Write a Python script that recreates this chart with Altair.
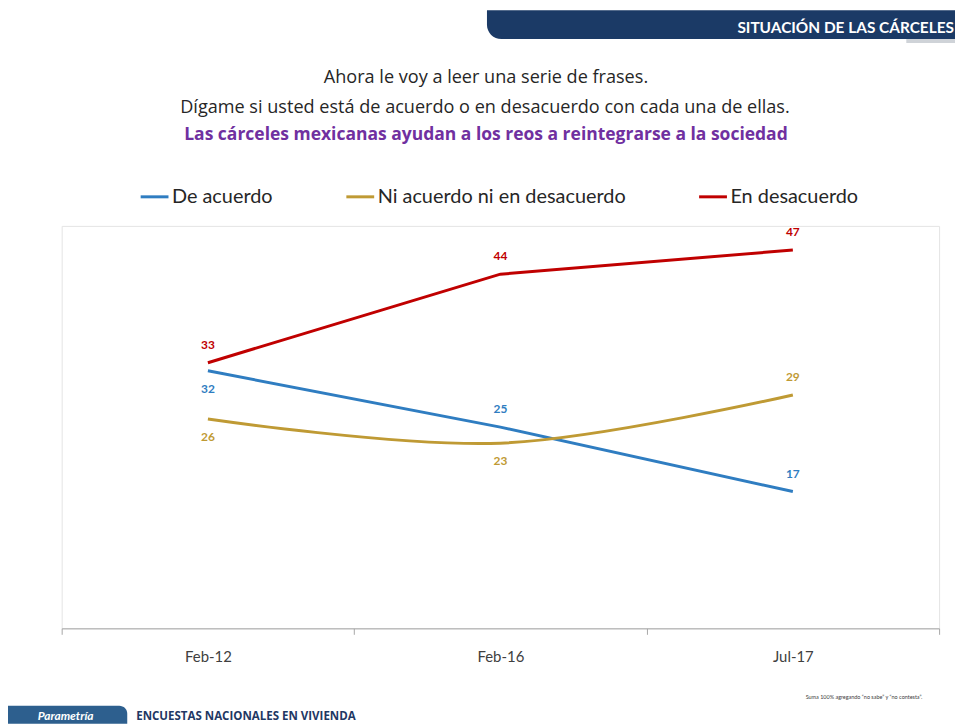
import altair as alt
import pandas as pd

fechas = ["Feb-12", "Feb-16", "Jul-17"]
series = ["De acuerdo", "Ni acuerdo ni en desacuerdo", "En desacuerdo"]
de_acuerdo = [32, 25, 17]
ni_acuerdo = [26, 23, 29]
en_desacuerdo = [33, 44, 47]
# label placement relative to the point
lado_de_acuerdo = ["abajo", "arriba", "arriba"]
lado_ni = ["abajo", "abajo", "arriba"]
lado_en = ["arriba", "arriba", "arriba"]
colores = ["#2F7DC1", "#BF9A34", "#C00000"]

rows = []
for s, vals, sides in zip(series, [de_acuerdo, ni_acuerdo, en_desacuerdo],
                          [lado_de_acuerdo, lado_ni, lado_en]):
    for f, v, sd in zip(fechas, vals, sides):
        rows.append({"fecha": f, "serie": s, "valor": v, "lado": sd})
df = pd.DataFrame(rows)

FONT = "Lato"
TFONT = "Open Sans"

x_enc = alt.X(
    "fecha:N", sort=fechas, title=None,
    scale=alt.Scale(type="band", paddingInner=0, paddingOuter=0),
    axis=alt.Axis(labelAngle=0, tickBand="extent", domainColor="#a6a6a6",
                  tickColor="#a6a6a6", tickSize=6, labelPadding=15,
                  labelFontSize=15, labelColor="#404040", labelFont=FONT,
                  grid=False),
)
y_enc = alt.Y("valor:Q", scale=alt.Scale(domain=[0, 50]), axis=None)
color_enc = alt.Color(
    "serie:N", sort=series,
    scale=alt.Scale(domain=series, range=colores),
    legend=alt.Legend(title=None, orient="none", legendX=78, legendY=-45,
                      direction="horizontal", symbolType="stroke",
                      symbolSize=784, symbolStrokeWidth=3, labelFontSize=20,
                      labelFont=FONT, labelColor="#262626", columnPadding=67,
                      labelOffset=2, labelLimit=400),
)

base = alt.Chart(df)

lines_straight = base.transform_filter(
    alt.FieldOneOfPredicate(field="serie", oneOf=["De acuerdo", "En desacuerdo"])
).mark_line(strokeWidth=3).encode(x=x_enc, y=y_enc, color=color_enc, detail="serie:N")

line_smooth = base.transform_filter(
    alt.FieldEqualPredicate(field="serie", equal="Ni acuerdo ni en desacuerdo")
).mark_line(strokeWidth=3, interpolate="catmull-rom").encode(x=x_enc, y=y_enc, color=color_enc)

labels_up = base.transform_filter(
    alt.FieldEqualPredicate(field="lado", equal="arriba")
).mark_text(dy=-18, fontWeight="bold", fontSize=12, font=FONT).encode(
    x=x_enc, y=y_enc, color=color_enc, text="valor:Q")

labels_down = base.transform_filter(
    alt.FieldEqualPredicate(field="lado", equal="abajo")
).mark_text(dy=18, fontWeight="bold", fontSize=12, font=FONT).encode(
    x=x_enc, y=y_enc, color=color_enc, text="valor:Q")


def deco_text(text, x, y, font=FONT, **kw):
    return alt.Chart(alt.Data(values=[{"k": 0}])).mark_text(
        text=text, font=font, baseline="middle", **kw
    ).encode(x=alt.value(x), y=alt.value(y))


def deco_rect(x, x2, y, y2, **kw):
    return alt.Chart(alt.Data(values=[{"k": 0}])).mark_rect(**kw).encode(
        x=alt.value(x), x2=alt.value(x2), y=alt.value(y), y2=alt.value(y2))


banner = deco_rect(428, 899, -217, -188, color="#1B3A66", cornerRadiusBottomLeft=22)
banner_shadow = deco_rect(850, 899, -188, -184, color="#cfd3d8")
banner_text = deco_text("SITUACIÓN DE LAS CÁRCELES", 898, -199, align="right",
                        fontSize=15.5, fontWeight="bold", color="#ffffff")

t1 = deco_text("Ahora le voy a leer una serie de frases.", 427, -149, font=TFONT,
               align="center", fontSize=18.2, color="#262626")
t2 = deco_text("Dígame si usted está de acuerdo o en desacuerdo con cada una de ellas.",
               426, -119, font=TFONT, align="center", fontSize=18.2, color="#262626")
t3 = deco_text("Las cárceles mexicanas ayudan a los reos a reintegrarse a la sociedad",
               427, -91, font=TFONT, align="center", fontSize=17.6, fontWeight="bold",
               color="#7030A0")

note = deco_text("Suma 100% agregando \u201cno sabe\u201d y \u201cno contesta\u201d.", 866, 474,
                 align="right", fontSize=5.5, color="#404040")

footer_box = deco_rect(-54, 66, 483, 501, color="#2D5F8E", cornerRadiusTopRight=8)
footer_brand = deco_text("Parametría", 4, 493, align="center", fontSize=12,
                         fontWeight="bold", fontStyle="italic", color="#ffffff")
footer_text = deco_text("ENCUESTAS NACIONALES EN VIVIENDA", 75, 494, font=TFONT,
                        align="left", fontSize=11.6, fontWeight="bold", color="#1F3864")

chart = alt.layer(
    lines_straight, line_smooth, labels_up, labels_down,
    banner, banner_shadow, banner_text, t1, t2, t3, note,
    footer_box, footer_brand, footer_text,
).properties(
    width=883, height=405,
    padding={"left": 54, "top": 217, "right": 16, "bottom": 96},
    autosize=alt.AutoSizeParams(type="none"),
    background="#ffffff",
).configure_view(stroke="#e4e4e4")

chart.save("out.html", embed_options={"renderer": "svg", "actions": False})
